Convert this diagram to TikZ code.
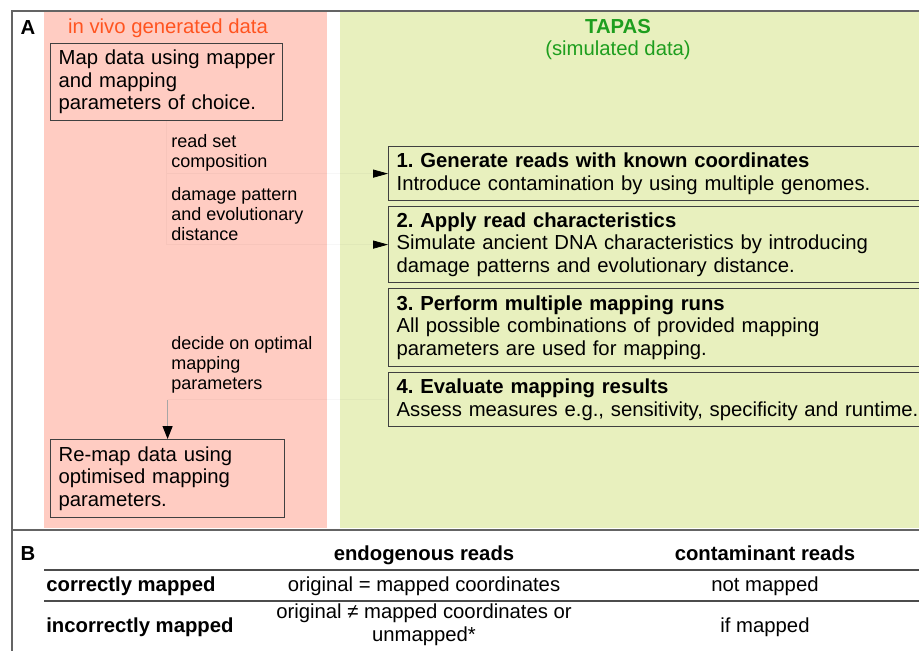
\documentclass[tikz,border=0pt]{standalone}
\usepackage{fontspec}
\setmainfont{Liberation Sans}
\usepackage{xcolor}
\usepackage{tikz}
\usetikzlibrary{arrows.meta}
\definecolor{vivopink}{RGB}{255,204,194}
\definecolor{tapasgreen}{RGB}{232,240,190}
\definecolor{vivored}{RGB}{255,84,32}
\definecolor{tapastext}{RGB}{30,158,30}
\definecolor{framegray}{RGB}{100,100,100}
\newcommand{\bigtxt}{\fontsize{11.55pt}{12.86pt}\selectfont}
\newcommand{\smalltxt}{\fontsize{10.24pt}{11.38pt}\selectfont}
\frenchspacing

\begin{document}
\begin{tikzpicture}[x=0.02cm,y=-0.02cm,
  stepbox/.style={draw=black!75,line width=0.7pt,anchor=north west,align=left,text width=10.6cm,inner xsep=0.16cm,inner ysep=2pt,font=\bigtxt},
  databox/.style={draw=black!75,line width=0.7pt,anchor=north west,align=left,inner xsep=0.16cm,inner ysep=2pt,font=\bigtxt},
  conlabel/.style={anchor=north west,align=left,inner sep=0pt,font=\smalltxt},
  faint/.style={draw=black,draw opacity=0.03,line width=0.6pt},
  headtip/.style={-{Triangle[length=8.5pt,width=4.6pt]}},
  cell/.style={anchor=base,inner sep=0pt,font=\bigtxt},
  rule/.style={draw=black!70,line width=1pt}]
\useasboundingbox (0,0) rectangle (919,650);
\clip (0,0) rectangle (919,650);
\fill[vivopink] (44,12) rectangle (327,528);
\fill[tapasgreen] (340,12) rectangle (930,528);
\draw[framegray,line width=0.85pt] (930,11) -- (12,11) -- (12,660);
\draw[framegray,line width=0.85pt] (12,530) -- (930,530);

\node[font=\bfseries\bigtxt] (A) at (28,28) {A};
\node[anchor=base,text=vivored,font=\bigtxt] (vivo) at (168,33) {in vivo generated data};
\node[anchor=base,text=tapastext,font=\bfseries\bigtxt] (tapas) at (618,33) {TAPAS};
\node[anchor=base,text=tapastext,font=\bigtxt] (simdata) at (618,55) {(simulated data)};

\node[databox,text width=4.32cm,minimum height=1.54cm] (map) at (50,43) {\mbox{Map data using mapper}\\and mapping\\\mbox{parameters of choice.}};
\node[databox,text width=4.36cm,minimum height=1.56cm] (remap) at (50,439) {\mbox{Re-map data using}\\\mbox{optimised mapping}\\parameters.};

\node[stepbox,minimum height=1.08cm] (gen) at (388,146) {{\bfseries 1. Generate reads with known coordinates}\\Introduce contamination by using multiple genomes.};
\node[stepbox,minimum height=1.52cm] (chars) at (388,206) {{\bfseries 2. Apply read characteristics}\\Simulate ancient DNA characteristics by introducing\\damage patterns and evolutionary distance.};
\node[stepbox,minimum height=1.56cm] (runs) at (388,288) {{\bfseries 3. Perform multiple mapping runs}\\All possible combinations of provided mapping\\parameters are used for mapping.};
\node[stepbox,minimum height=1.08cm] (evalres) at (388,372) {{\bfseries 4. Evaluate mapping results}\\Assess measures e.g., sensitivity, specificity and runtime.};

\draw[faint] (map.south) -- (map.south |- chars.west);
\draw[faint] (map.south |- gen.west) -- (gen.west);
\draw[faint] (map.south |- chars.west) -- (chars.west);
\draw[headtip] ([xshift=-8.5pt]gen.west) -- (gen.west);
\draw[headtip] ([xshift=-8.5pt]chars.west) -- (chars.west);
\draw[faint] (evalres.west) -- (remap.north |- evalres.west);
\draw[draw=black!35,line width=0.6pt,-{Triangle[length=7.4pt,width=5.7pt,black]}] (remap.north |- evalres.west) -- (remap.north);

\node[conlabel] (setlab) at (171,134) {read set\\composition};
\node[conlabel] (dmglab) at (171,187) {damage pattern\\and evolutionary\\distance};
\node[conlabel] (optlab) at (171,336) {decide on optimal\\mapping\\parameters};

\node[font=\bfseries\bigtxt] (B) at (28,554) {B};
\node[cell,font=\bfseries\bigtxt] (endo) at (424,560) {endogenous reads};
\node[cell,font=\bfseries\bigtxt] (cont) at (765,560) {contaminant reads};
\draw[rule] (44,570) -- (930,570);
\node[cell,anchor=base west,font=\bfseries\bigtxt] (corr) at (46,591) {correctly mapped};
\node[cell] (endocorr) at (424,591) {original = mapped coordinates};
\node[cell] (contcorr) at (765,591) {not mapped};
\draw[rule] (44,601) -- (930,601);
\node[cell,anchor=base west,font=\bfseries\bigtxt] (incorr) at (46,632) {incorrectly mapped};
\node[cell,anchor=center,align=center] (endoincorr) at (424,625) {original ≠ mapped coordinates or\\unmapped*};
\node[cell] (contincorr) at (765,632) {if mapped};

\end{tikzpicture}
\end{document}
